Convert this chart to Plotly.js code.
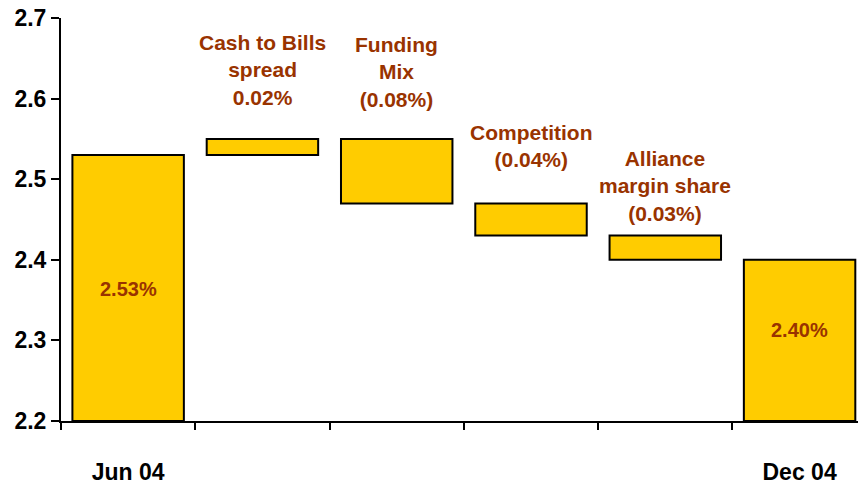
<!DOCTYPE html>
<html>
<head>
<meta charset="utf-8">
<script src="https://cdn.plot.ly/plotly-3.0.1.min.js"></script>
<style>html,body{margin:0;padding:0;background:#fff;}#chart{width:858px;height:484px;}</style>
</head>
<body>
<div id="chart"></div>
<script>
// Data
var categories = ["Jun 04", "Cash to Bills spread", "Funding Mix", "Competition", "Alliance margin share", "Dec 04"];
var tickLabels = ["Jun 04", "", "", "", "", "Dec 04"];
var startValue = 2.53;
var changes = [0.02, -0.08, -0.04, -0.03];
var endValue = 2.40;
var axisFloor = 2.2;
var stepLabels = ["Cash to Bills<br>spread<br>0.02%", "Funding<br>Mix<br>(0.08%)", "Competition<br>(0.04%)", "Alliance<br>margin share<br>(0.03%)"];
var stepLabelY = [2.636, 2.633, 2.541, 2.492];
var totalLabels = ["2.53%", "2.40%"];
var totalLabelY = [2.364, 2.313];

// Build waterfall bars
var bases = [axisFloor], heights = [startValue - axisFloor];
var running = startValue;
changes.forEach(function (d) {
  bases.push(Math.min(running, running + d));
  heights.push(Math.abs(d));
  running += d;
});
bases.push(axisFloor); heights.push(endValue - axisFloor);

var brown = "#993300";
var fontFam = "Liberation Sans, Arial, sans-serif";

var trace = {
  type: "bar",
  x: categories,
  y: heights,
  base: bases,
  width: 0.83,
  marker: {color: "#FFCC00", line: {color: "#000", width: 2}},
  hoverinfo: "skip"
};

var annotations = stepLabels.map(function (t, i) {
  return {
    x: categories[i + 1], y: stepLabelY[i], xref: "x", yref: "y",
    text: t, showarrow: false, xanchor: "center", yanchor: "middle",
    font: {family: fontFam, size: 21, color: brown, weight: "bold"}
  };
});
[0, 5].forEach(function (ci, k) {
  annotations.push({
    x: categories[ci], y: totalLabelY[k], xref: "x", yref: "y",
    text: totalLabels[k], showarrow: false, xanchor: "center", yanchor: "middle",
    font: {family: fontFam, size: 20, color: brown, weight: "bold"}
  });
});

var layout = {
  width: 858, height: 484,
  margin: {l: 61, r: 0, t: 18, b: 63},
  paper_bgcolor: "#fff", plot_bgcolor: "#fff",
  showlegend: false,
  xaxis: {
    type: "category",
    range: [-0.5, 5.435],
    tickvals: categories, ticktext: tickLabels,
    tickson: "boundaries",
    ticks: "outside", ticklen: 7, tickwidth: 2, tickcolor: "#000",
    showline: true, linecolor: "#000", linewidth: 2,
    showgrid: false, zeroline: false,
    ticklabelstandoff: 29,
    tickfont: {family: fontFam, size: 23, color: "#000", weight: "bold"}
  },
  yaxis: {
    range: [2.2, 2.7], dtick: 0.1, tick0: 2.2, tickformat: ".1f",
    ticks: "outside", ticklen: 8, tickwidth: 2, tickcolor: "#000",
    showline: true, linecolor: "#000", linewidth: 2,
    showgrid: false, zeroline: false,
    tickfont: {family: fontFam, size: 23, color: "#000", weight: "bold"}
  },
  annotations: annotations
};

Plotly.newPlot("chart", [trace], layout, {displayModeBar: false, staticPlot: true});
</script>
</body>
</html>
